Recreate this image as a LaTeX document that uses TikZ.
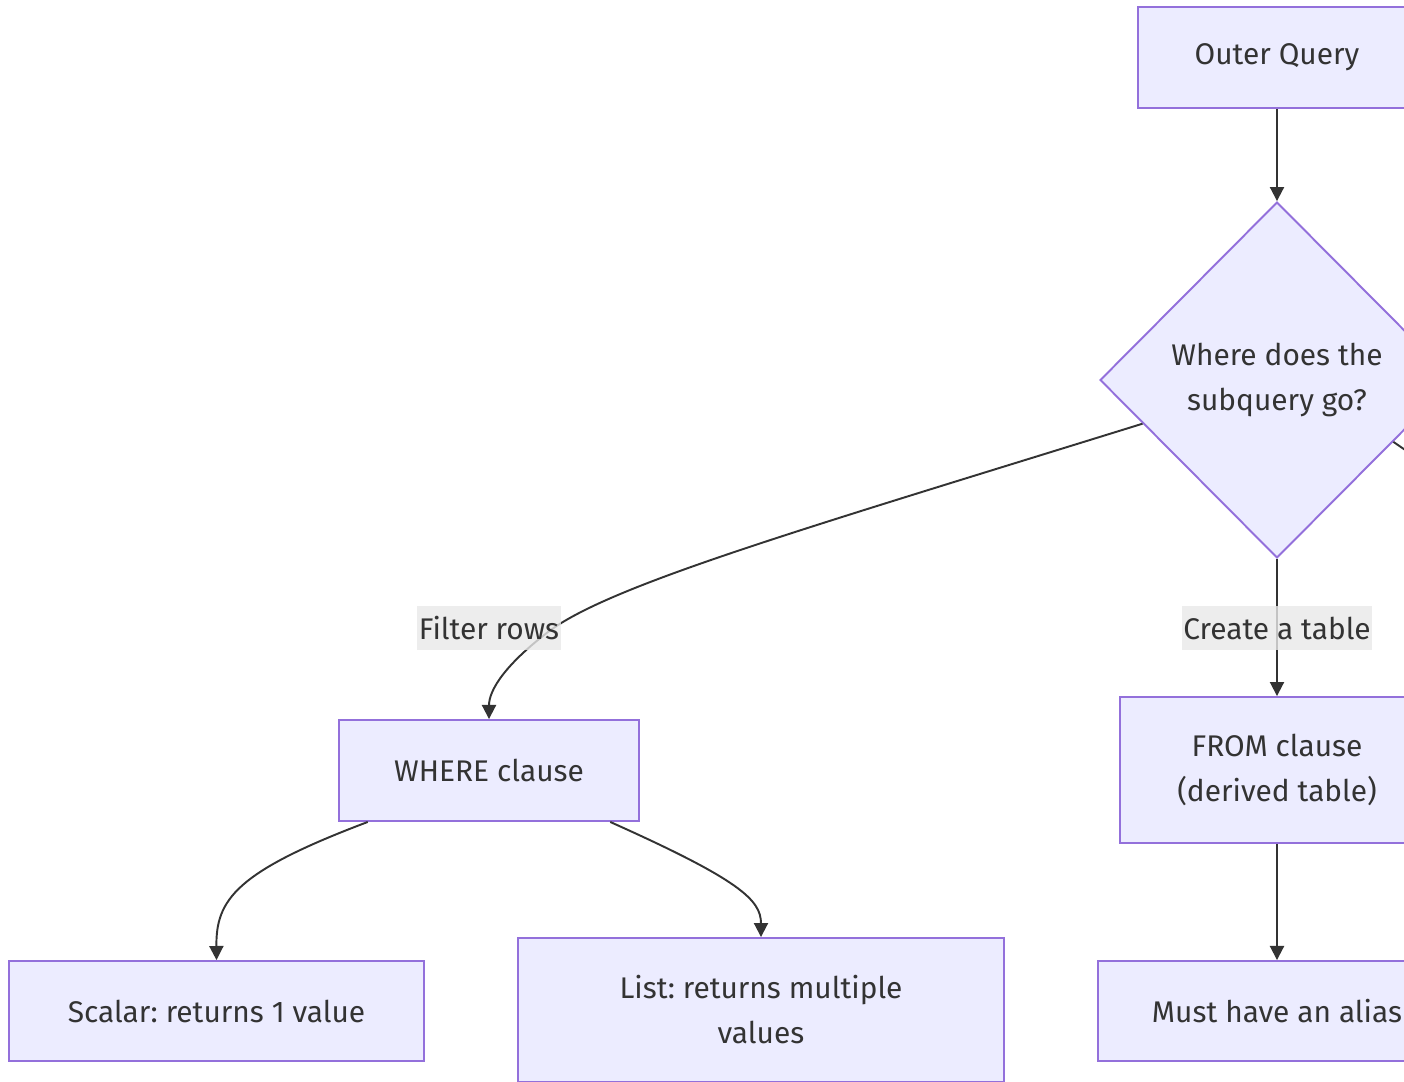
\documentclass[tikz,border=0pt]{standalone}
\usepackage{fontspec}
\setmainfont{Fira Sans}
\usepackage{xcolor}
\usetikzlibrary{shapes.geometric}
\usetikzlibrary{arrows.meta}
\frenchspacing
\definecolor{mmfill}{HTML}{ECECFF}
\definecolor{mmline}{HTML}{9370DB}
\definecolor{mmtext}{HTML}{333333}
\definecolor{mmlabel}{HTML}{E8E8E8}
\tikzset{box/.style={draw=mmline, fill=mmfill, line width=1.1pt, text=mmtext, align=center, inner sep=0pt},
 decision/.style={box, diamond, minimum width=7.08cm, minimum height=7.12cm},
 flow/.style={draw=mmtext, line width=1.1pt, -{Triangle[width=8pt,length=8pt]}},
 edgelabel/.style={fill=mmlabel, fill opacity=0.8, text opacity=1, text=mmtext, inner xsep=1pt, inner ysep=0pt, minimum height=0.88cm},
 }

\begin{document}
\begin{tikzpicture}[x=0.02cm, y=-0.02cm, font=\fontsize{17}{25.6}\selectfont]
        \useasboundingbox (0,0) rectangle (1404,1082);
        \clip (0,0) rectangle (1404,1082);
        \node[box, minimum width=5.56cm, minimum height=2.02cm] (outer) at (1277,57.5) {Outer Query};
        \node[decision] (dec) at (1277,380) {Where does the\\subquery go?};
        \node[box, minimum width=6cm, minimum height=2.02cm] (where) at (489,770.5) {WHERE clause};
        \node[box, minimum width=6.28cm, minimum height=2.92cm] (from) at (1277,770) {FROM clause\\(derived table)};
        \node[box, minimum width=8.3cm, minimum height=2cm] (scalar) at (216.5,1011) {Scalar: returns 1 value};
        \node[box, minimum width=9.72cm, minimum height=2.88cm] (list) at (761,1010) {List: returns multiple\\values};
        \node[box, minimum width=7.16cm, minimum height=2cm] (alias) at (1277,1011) {Must have an alias};
        \coordinate (offright) at (1500,515);
        \draw[flow] (outer.south) -- (dec.north);
        \draw[flow] (dec.198) .. controls (800,530) and (610,585) .. (548,632)
            .. controls (505,665) and (489,690) .. (where.north);
        \draw[flow] (dec.south) -- (from.north);
        \draw[draw=mmtext, line width=1.1pt] (dec.-28) -- (offright);
        \draw[flow] (where.203.5) .. controls (235,872) and (216,900) .. (scalar.north);
        \draw[flow] (where.-23.7) .. controls (740,880) and (761,900) .. (list.north);
        \draw[flow] (from.south) -- (alias.north);
        \node[edgelabel] (filter) at (489,628) {Filter rows};
        \node[edgelabel] (create) at (1277,628) {Create a table};
    \end{tikzpicture}
\end{document}
